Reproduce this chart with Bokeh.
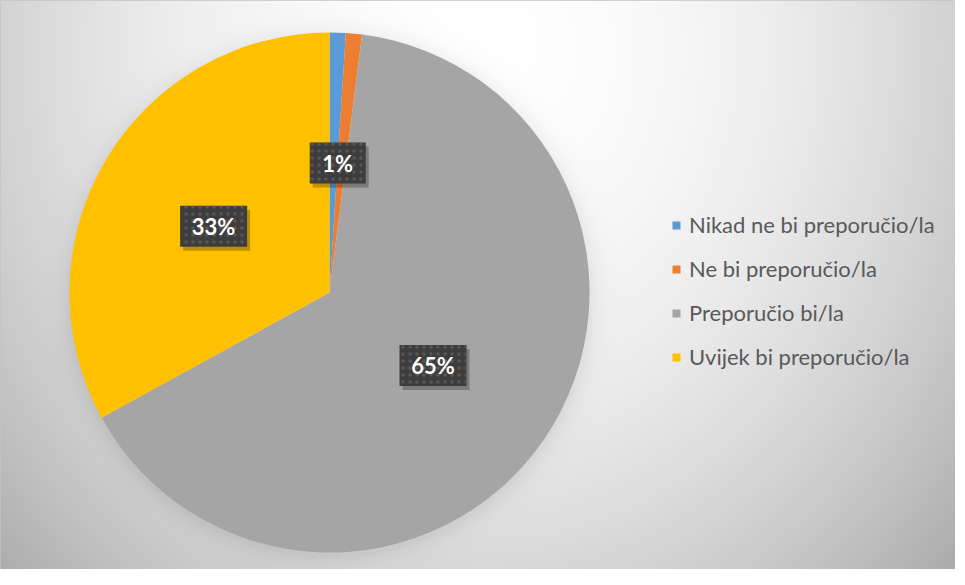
import numpy as np
from bokeh.plotting import figure
from bokeh.models import Range1d, Legend, LegendItem, ColumnDataSource
from bokeh.core.properties import value
from bokeh.embed import file_html
from bokeh.resources import INLINE

# ---- data ----
categories = ["Nikad ne bi preporučio/la", "Ne bi preporučio/la",
              "Preporučio bi/la", "Uvijek bi preporučio/la"]
percents = [1, 1, 65, 33]
colors = ["#5B9BD5", "#ED7D31", "#A5A5A5", "#FFC000"]

# ---- figure (1 data unit = 1 px) ----
W, H = 955, 569
p = figure(width=W, height=H, x_range=Range1d(0, W), y_range=Range1d(0, H),
           x_axis_type=None, y_axis_type=None, output_backend="svg",
           toolbar_location=None, min_border=0)
p.grid.visible = False
p.outline_line_color = "#c4c4c4"
p.background_fill_color = "#e0e0e0"

cx, cy, R = 329, 277, 260

# background radial gradient (style only)
yy, xx = np.mgrid[0:H, 0:W]
px = xx + 8.0
py = 8.0 + H - yy
d2 = ((px - 480) / 480) ** 2 + ((py - 60) / 560) ** 2
g = 255 - 45 * d2
rr = np.hypot(px - (cx + 8), py - (8 + H - cy) - 4)
g -= 16 * np.exp(-np.clip(rr - R, 0, None) / 10)
g = np.clip(g, 0, 255).astype(np.uint8)
img = np.empty((H, W), dtype=np.uint32)
view = img.view(dtype=np.uint8).reshape((H, W, 4))
view[..., 0] = g
view[..., 1] = g
view[..., 2] = g
view[..., 3] = 255
p.image_rgba(image=[img], x=0, y=0, dw=W, dh=H)

# ---- pie ----
frac = np.array(percents, dtype=float) / sum(percents)
cum = np.concatenate([[0.0], np.cumsum(frac)])
start = np.pi / 2 - 2 * np.pi * cum[:-1]
end = np.pi / 2 - 2 * np.pi * cum[1:]
src = ColumnDataSource(dict(cat=categories, start=start, end=end, color=colors))
wr = p.wedge(x=cx, y=cy, radius=R, radius_units="screen",
             start_angle="start", end_angle="end", direction="clock",
             fill_color="color", line_color=None, source=src)

# ---- data labels ----
mid = (start + end) / 2
lx = cx + R / 2 * np.cos(mid)
ly = cy + R / 2 * np.sin(mid)
keep = []
for i in range(len(percents)):
    if i + 1 < len(percents) and np.hypot(lx[i] - lx[i + 1], ly[i] - ly[i + 1]) < 35:
        continue
    keep.append(i)
lab_text = [f"{percents[i]}%" for i in keep]
lab_x = [lx[i] - 4 for i in keep]
lab_y = [ly[i] for i in keep]
lab_w = [11 * len(t) + 34 for t in lab_text]
lab = ColumnDataSource(dict(x=lab_x, y=lab_y, t=lab_text, w=lab_w,
                            sx=[x + 3 for x in lab_x], sy=[y - 4 for y in lab_y]))
p.rect(x="sx", y="sy", width="w", height=41, source=lab,
       fill_color="black", fill_alpha=0.25, line_color=None)
p.rect(x="x", y="y", width="w", height=41, source=lab,
       fill_color="#3d3d3d", line_color=None,
       hatch_pattern="dot", hatch_color="#575757", hatch_scale=7, hatch_weight=1)
p.text(x="x", y="y", text="t", source=lab, text_align="center",
       text_baseline="middle", text_font=value("Lato"), text_font_style="bold",
       text_font_size="22px", text_color="white")

# ---- legend ----
items = [LegendItem(label=c, renderers=[wr], index=i) for i, c in enumerate(categories)]
legend = Legend(items=items, location=(671, 199), orientation="vertical",
                glyph_width=10, glyph_height=10, label_height=24, spacing=17,
                label_standoff=8, padding=0, margin=0, border_line_color=None,
                background_fill_alpha=0, label_text_font="Lato",
                label_text_font_size="22px", label_text_color="#595959")
p.add_layout(legend)

open("out.html", "w").write(file_html(p, INLINE))
